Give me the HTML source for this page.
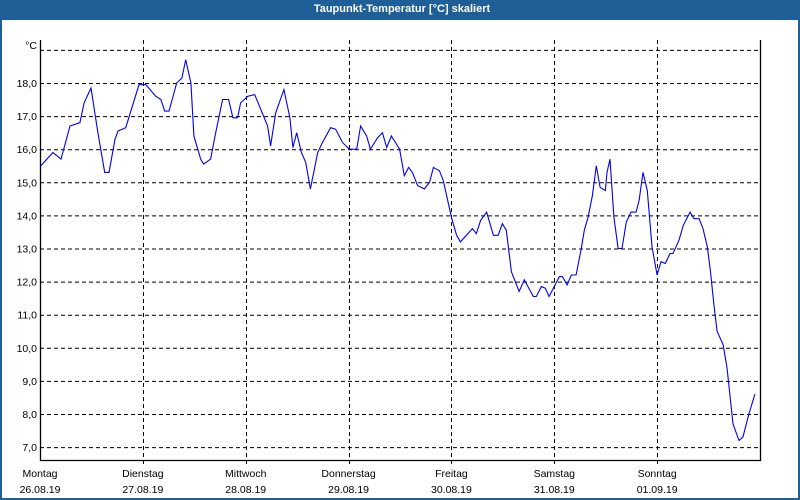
<!DOCTYPE html>
<html><head><meta charset="utf-8"><style>
html,body{margin:0;padding:0;background:#fff;}
#w{position:relative;width:800px;height:500px;box-sizing:border-box;border:2px solid #1e5f96;border-top:none;background:#fff;overflow:hidden;font-family:"Liberation Sans",sans-serif;}
#t{position:absolute;left:0;top:0;width:800px;height:20px;background:#1f5f98;color:#fff;font-weight:bold;font-size:11px;text-align:center;line-height:18px;}
svg{position:absolute;left:-2px;top:0;}
text{font-family:"Liberation Sans",sans-serif;font-size:10.5px;fill:#000;}
</style></head><body>
<div id="w">
<div id="t">Taupunkt-Temperatur [°C] skaliert</div>
<svg id="c" width="800" height="500"></svg>
</div>
<script>
const hours=[0.2,3.0,4.9,7.0,9.3,10.3,11.9,13.5,15.1,16.1,17.5,18.2,20.0,23.1,24.7,27.0,28.2,29.1,30.1,31.9,33.1,34.0,35.2,35.9,37.5,38.2,39.8,41.0,42.6,44.0,45.0,46.1,46.8,48.5,50.1,53.1,53.8,55.0,56.9,58.3,59.0,59.9,61.0,62.0,63.1,64.8,65.9,67.8,69.0,70.6,72.2,73.9,74.8,76.2,77.1,78.8,79.9,80.9,82.0,83.9,85.0,86.0,86.9,88.1,89.7,90.9,91.8,93.2,94.1,96.0,97.2,98.1,100.9,101.8,102.8,104.2,105.8,106.9,107.9,108.8,110.0,111.8,113.0,115.1,115.8,117.0,117.9,118.8,121.2,121.9,123.0,124.0,125.1,126.3,127.0,127.9,128.9,129.8,130.7,131.9,132.3,133.0,133.9,134.9,135.8,136.8,137.9,139.1,139.8,140.7,141.7,142.8,144.0,144.9,145.9,147.0,147.7,149.1,150.1,151.7,152.6,153.8,154.7,155.7,156.4,157.3,158.0,159.4,160.3,161.7,163.1,164.0,165.4,166.8];
const temps=[15.5,15.9,15.7,16.7,16.8,17.4,17.85,16.5,15.3,15.3,16.3,16.55,16.65,17.95,17.95,17.6,17.5,17.15,17.15,18.0,18.15,18.7,18.0,16.4,15.7,15.55,15.7,16.5,17.5,17.5,16.95,16.95,17.4,17.6,17.65,16.7,16.1,17.1,17.8,16.95,16.05,16.5,15.9,15.6,14.8,15.9,16.2,16.65,16.6,16.2,16.0,16.0,16.7,16.4,16.0,16.35,16.5,16.05,16.4,16.0,15.2,15.45,15.3,14.9,14.8,15.0,15.45,15.35,15.05,13.95,13.4,13.2,13.6,13.45,13.85,14.1,13.4,13.4,13.75,13.55,12.3,11.7,12.05,11.55,11.55,11.85,11.8,11.55,12.15,12.15,11.9,12.2,12.2,13.0,13.55,13.95,14.6,15.5,14.85,14.75,15.3,15.7,13.95,13.0,13.0,13.8,14.1,14.1,14.45,15.3,14.75,13.05,12.2,12.6,12.55,12.85,12.85,13.25,13.7,14.1,13.9,13.9,13.6,13.05,12.35,11.25,10.5,10.1,9.4,7.7,7.2,7.3,8.0,8.6];
const yTicks=[7,8,9,10,11,12,13,14,15,16,17,18,19];
const dayNames=["Montag","Dienstag","Mittwoch","Donnerstag","Freitag","Samstag","Sonntag"];
const dayDates=["26.08.19","27.08.19","28.08.19","29.08.19","30.08.19","31.08.19","01.09.19"];
const L=40,R=760,T=40,B=460;
const X=h=>L+h*(R-L)/168;
const Y=v=>83+(18-v)*33.1;
const svg=document.getElementById('c');
const NS='http://www.w3.org/2000/svg';
function mk(tag,at){const e=document.createElementNS(NS,tag);for(const k in at)e.setAttribute(k,at[k]);svg.appendChild(e);return e;}
yTicks.forEach(v=>{
 const g=mk('line',{x1:L,x2:R,y1:Y(v)+0.5,y2:Y(v)+0.5,stroke:'#000','stroke-dasharray':'4,3'});
 
 
 if(v<19){const t=mk('text',{x:L-3,y:Y(v)+4,'text-anchor':'end'});t.textContent=v.toFixed(1).replace('.',',');
 
 }
});
dayNames.forEach((d,i)=>{
 const x=Math.round(X(i*24))+0.5;
 if(i>0){const g=mk('line',{x1:x,x2:x,y1:T,y2:B+4,stroke:'#000','stroke-dasharray':'4,3'});
 
 }
 const t=mk('text',{x:X(i*24),y:477,'text-anchor':'middle'});t.textContent=d;
 
 
 const t2=mk('text',{x:X(i*24),y:493,'text-anchor':'middle'});t2.textContent=dayDates[i];
 
 
});
const ax=mk('path',{d:`M${L+0.5},${T} V${B+0.5} H${R+0.5} V${T}`,fill:'none',stroke:'#000','stroke-width':1.3});


const u=mk('text',{x:L-3,y:49,'text-anchor':'end'});u.textContent='°C';


const pl=mk('polyline',{points:hours.map((h,i)=>X(h).toFixed(1)+','+Y(temps[i]).toFixed(1)).join(' '),fill:'none',stroke:'#0000ee','stroke-width':1.1});


</script>
</body></html>
